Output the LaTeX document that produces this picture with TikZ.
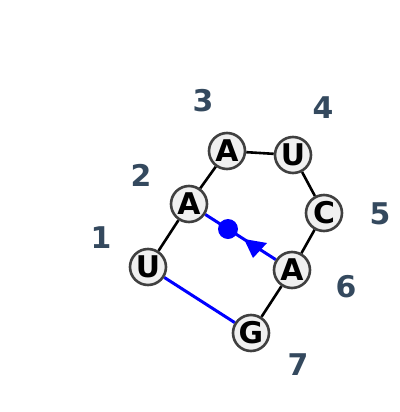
\documentclass[tikz,border=0pt]{standalone}
\usepackage{fontspec}
\setmainfont{DejaVu Sans}
\definecolor{lblc}{HTML}{34495E}
\definecolor{nodefill}{HTML}{F0F0F0}
\definecolor{nodeedge}{HTML}{404040}
\pgfdeclarelayer{bg}
\pgfsetlayers{bg,main}
\begin{document}
\begin{tikzpicture}[x=1bp,y=-1bp,
  base/.style={circle,draw=nodeedge,line width=2.6bp,fill=nodefill,minimum size=36bp,inner sep=0pt,
    font=\fontsize{30}{30}\selectfont\bfseries},
  idx/.style={text=lblc,font=\fontsize{30}{30}\selectfont\bfseries},
  bb/.style={line width=2.6bp,black},
  pk/.style={line width=3bp,blue}]
\useasboundingbox (0,0) rectangle (400,412);
\node[base] (n1) at (148,267) {U};
\node[base] (n2) at (189,204) {A};
\node[base] (n3) at (227,151) {A};
\node[base] (n4) at (293,155) {U};
\node[base] (n5) at (324,213) {C};
\node[base] (n6) at (292,270) {A};
\node[base] (n7) at (251,333) {G};
\node[idx] (l1) at (101,238) {1};
\node[idx] (l2) at (141,175) {2};
\node[idx] (l3) at (203,101) {3};
\node[idx] (l4) at (323,108) {4};
\node[idx] (l5) at (380,214) {5};
\node[idx] (l6) at (346,287) {6};
\node[idx] (l7) at (298,365) {7};
\begin{pgfonlayer}{bg}
\draw[bb] (n1) -- (n2);
\draw[bb] (n2) -- (n3);
\draw[bb] (n3) -- (n4);
\draw[bb] (n4) -- (n5);
\draw[bb] (n5) -- (n6);
\draw[bb] (n6) -- (n7);
\draw[pk] (n1) -- (n7);
\draw[pk] (n6) -- (n2);
\end{pgfonlayer}
\coordinate (t1) at (244,239);
\coordinate (t2) at (267,243);
\coordinate (t3) at (253,258);
\fill[blue] (t1) -- (t2) -- (t3) -- cycle;
\node[circle,fill=blue,inner sep=0pt,minimum size=20bp] (dot) at (228,229) {};
\end{tikzpicture}
\end{document}
